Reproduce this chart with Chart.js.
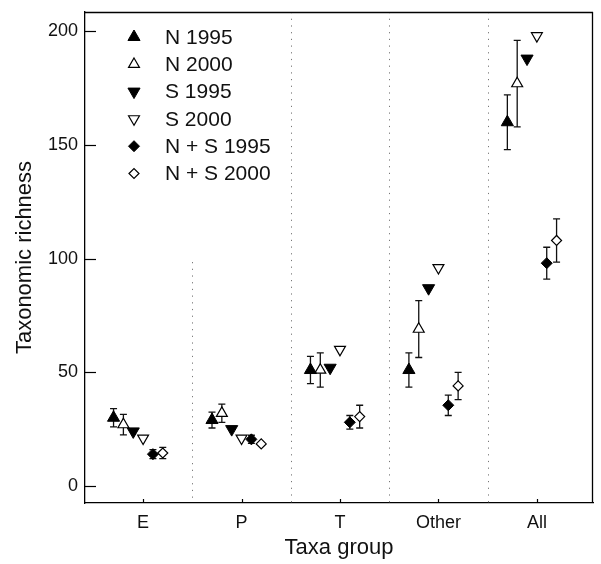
<!DOCTYPE html>
<html><head><meta charset="utf-8">
<script src="https://cdn.jsdelivr.net/npm/chart.js@4/dist/chart.umd.min.js"></script>
<style>html,body{margin:0;padding:0;background:#fff;overflow:hidden}#wrap{width:601px;height:564px}</style>
</head><body><div id="wrap"><canvas id="c" width="601" height="564"></canvas></div>
<script>
// ---- data ----
const categories = ['E', 'P', 'T', 'Other', 'All'];
const seriesNames = ['N 1995', 'N 2000', 'S 1995', 'S 2000', 'N + S 1995', 'N + S 2000'];
const n1995 = [30, 29, 51, 51, 160];
const n1995Err = [4, 3.5, 6, 7.5, 12];
const n2000 = [27, 32, 51, 69, 177];
const n2000Err = [4.5, 4, 7.5, 12.5, 19];
const s1995 = [24, 25, 52, 87, 188];
const s2000 = [21, 21, 60, 96, 198];
const ns1995 = [14, 20.5, 28, 35.5, 98];
const ns1995Err = [2, 1.8, 3, 4.5, 7];
const ns2000 = [14.5, 18.5, 30.5, 44, 108];
const ns2000Err = [2.5, 0, 5, 6, 9.5];
const yTicks = [0, 50, 100, 150, 200];

// ---- layout/style helpers ----
const FONT = "'Liberation Sans', Arial, Helvetica, sans-serif";
const seriesOffsets = [-0.3, -0.2, -0.1, 0, 0.1, 0.2];
const separators = [1.5, 2.5, 3.5, 4.5];
const separatorTop = [98.5, null, null, null];

const styles = [
  {pointStyle: 'triangle', rotation: 0, radius: 7, fill: '#000', border: 1},
  {pointStyle: 'triangle', rotation: 0, radius: 6.3, fill: '#fff', border: 1.2},
  {pointStyle: 'triangle', rotation: 180, radius: 7, fill: '#000', border: 1},
  {pointStyle: 'triangle', rotation: 180, radius: 6.3, fill: '#fff', border: 1.2},
  {pointStyle: 'rectRot', rotation: 0, radius: 5.5, fill: '#000', border: 1},
  {pointStyle: 'rectRot', rotation: 0, radius: 5, fill: '#fff', border: 1.2}
];
const values = [n1995, n2000, s1995, s2000, ns1995, ns2000];
const errors = [n1995Err, n2000Err, null, null, ns1995Err, ns2000Err];

const datasets = values.map((vals, s) => ({
  label: seriesNames[s],
  data: vals.map((v, i) => ({x: i + 1 + seriesOffsets[s], y: v})),
  errs: errors[s],
  pointStyle: styles[s].pointStyle,
  pointRotation: styles[s].rotation,
  pointRadius: styles[s].radius,
  pointBackgroundColor: styles[s].fill,
  pointBorderColor: '#000',
  pointBorderWidth: styles[s].border,
  showLine: false
}));

const framePlugin = {
  id: 'frame',
  beforeDatasetsDraw(chart) {
    const {ctx, chartArea: a, scales: {x, y}} = chart;
    ctx.save();
    ctx.strokeStyle = '#777';
    ctx.lineWidth = 1;
    ctx.setLineDash([1.2, 5.5]);
    separators.forEach((sv, i) => {
      const px = Math.round(x.getPixelForValue(sv)) + 0.5;
      const top = separatorTop[i] == null ? a.top : y.getPixelForValue(separatorTop[i]);
      ctx.beginPath(); ctx.moveTo(px, top); ctx.lineTo(px, a.bottom); ctx.stroke();
    });
    ctx.setLineDash([]);
    ctx.strokeStyle = '#111';
    ctx.lineWidth = 1.3;
    chart.data.datasets.forEach(ds => {
      if (!ds.errs) return;
      ds.data.forEach((p, i) => {
        const e = ds.errs[i];
        if (!e) return;
        const px = x.getPixelForValue(p.x);
        const y1 = y.getPixelForValue(p.y + e), y2 = y.getPixelForValue(p.y - e);
        ctx.beginPath();
        ctx.moveTo(px, y1); ctx.lineTo(px, y2);
        ctx.moveTo(px - 3.5, y1); ctx.lineTo(px + 3.5, y1);
        ctx.moveTo(px - 3.5, y2); ctx.lineTo(px + 3.5, y2);
        ctx.stroke();
      });
    });
    ctx.restore();
  },
  afterDraw(chart) {
    const {ctx, chartArea: a, scales: {x, y}} = chart;
    ctx.save();
    ctx.strokeStyle = '#000';
    ctx.lineWidth = 1.3;
    ctx.beginPath();
    ctx.moveTo(a.left, a.top + 0.5); ctx.lineTo(a.right, a.top + 0.5);
    ctx.moveTo(a.right - 0.5, a.top); ctx.lineTo(a.right - 0.5, a.bottom);
    ctx.stroke();
    ctx.lineWidth = 1.2;
    y.ticks.forEach(t => {
      const py = Math.round(y.getPixelForValue(t.value)) + 0.5;
      ctx.beginPath(); ctx.moveTo(a.left, py); ctx.lineTo(a.left + 11, py); ctx.stroke();
    });
    x.ticks.forEach(t => {
      const px = Math.round(x.getPixelForValue(t.value)) + 0.5;
      ctx.beginPath(); ctx.moveTo(px, a.bottom); ctx.lineTo(px, a.bottom - 4); ctx.stroke();
    });
    const lx = a.left + 49, tx = a.left + 80, ly0 = 37, dy = 27.3;
    ctx.font = '21px ' + FONT;
    ctx.textBaseline = 'middle';
    ctx.textAlign = 'left';
    seriesNames.forEach((name, s) => {
      const st = styles[s];
      const yy = ly0 + s * dy;
      ctx.fillStyle = st.fill;
      ctx.strokeStyle = '#000';
      ctx.lineWidth = st.border;
      Chart.helpers.drawPoint(ctx, {pointStyle: st.pointStyle, rotation: st.rotation, radius: st.radius, borderWidth: st.border}, lx, yy);
      ctx.fillStyle = '#111';
      ctx.fillText(name, tx, yy + 1);
    });
    ctx.restore();
  }
};

new Chart(document.getElementById('c'), {
  type: 'scatter',
  data: {datasets},
  options: {
    responsive: false,
    animation: false,
    devicePixelRatio: 1,
    layout: {padding: {top: 12, right: 0, left: 0, bottom: 0}},
    plugins: {legend: {display: false}, tooltip: {enabled: false}},
    scales: {
      x: {
        type: 'linear', min: 0.41, max: 5.57,
        afterBuildTicks: s => { s.ticks = categories.map((c, i) => ({value: i + 1})); },
        afterFit: s => { s.height = 61; s.paddingLeft = 0; s.paddingRight = 0; },
        ticks: {callback: v => categories[v - 1], font: {family: FONT, size: 18}, color: '#111', padding: 9, maxRotation: 0, autoSkip: false},
        grid: {display: false, drawTicks: false},
        border: {display: true, color: '#000', width: 1.3},
        title: {display: true, text: 'Taxa group', font: {family: FONT, size: 22}, color: '#111', padding: {top: 0, bottom: 3}}
      },
      y: {
        min: -7.5, max: 208.5,
        afterBuildTicks: s => { s.ticks = yTicks.map(v => ({value: v})); },
        afterFit: s => { s.width = 85; s.paddingTop = 0; s.paddingBottom = 0; },
        ticks: {font: {family: FONT, size: 18}, color: '#111', padding: 7},
        grid: {display: false, drawTicks: false},
        border: {display: true, color: '#000', width: 1.3},
        title: {display: true, text: 'Taxonomic richness', font: {family: FONT, size: 22}, color: '#111', padding: {top: 12, bottom: 0}}
      }
    }
  },
  plugins: [framePlugin]
});
</script></body></html>
